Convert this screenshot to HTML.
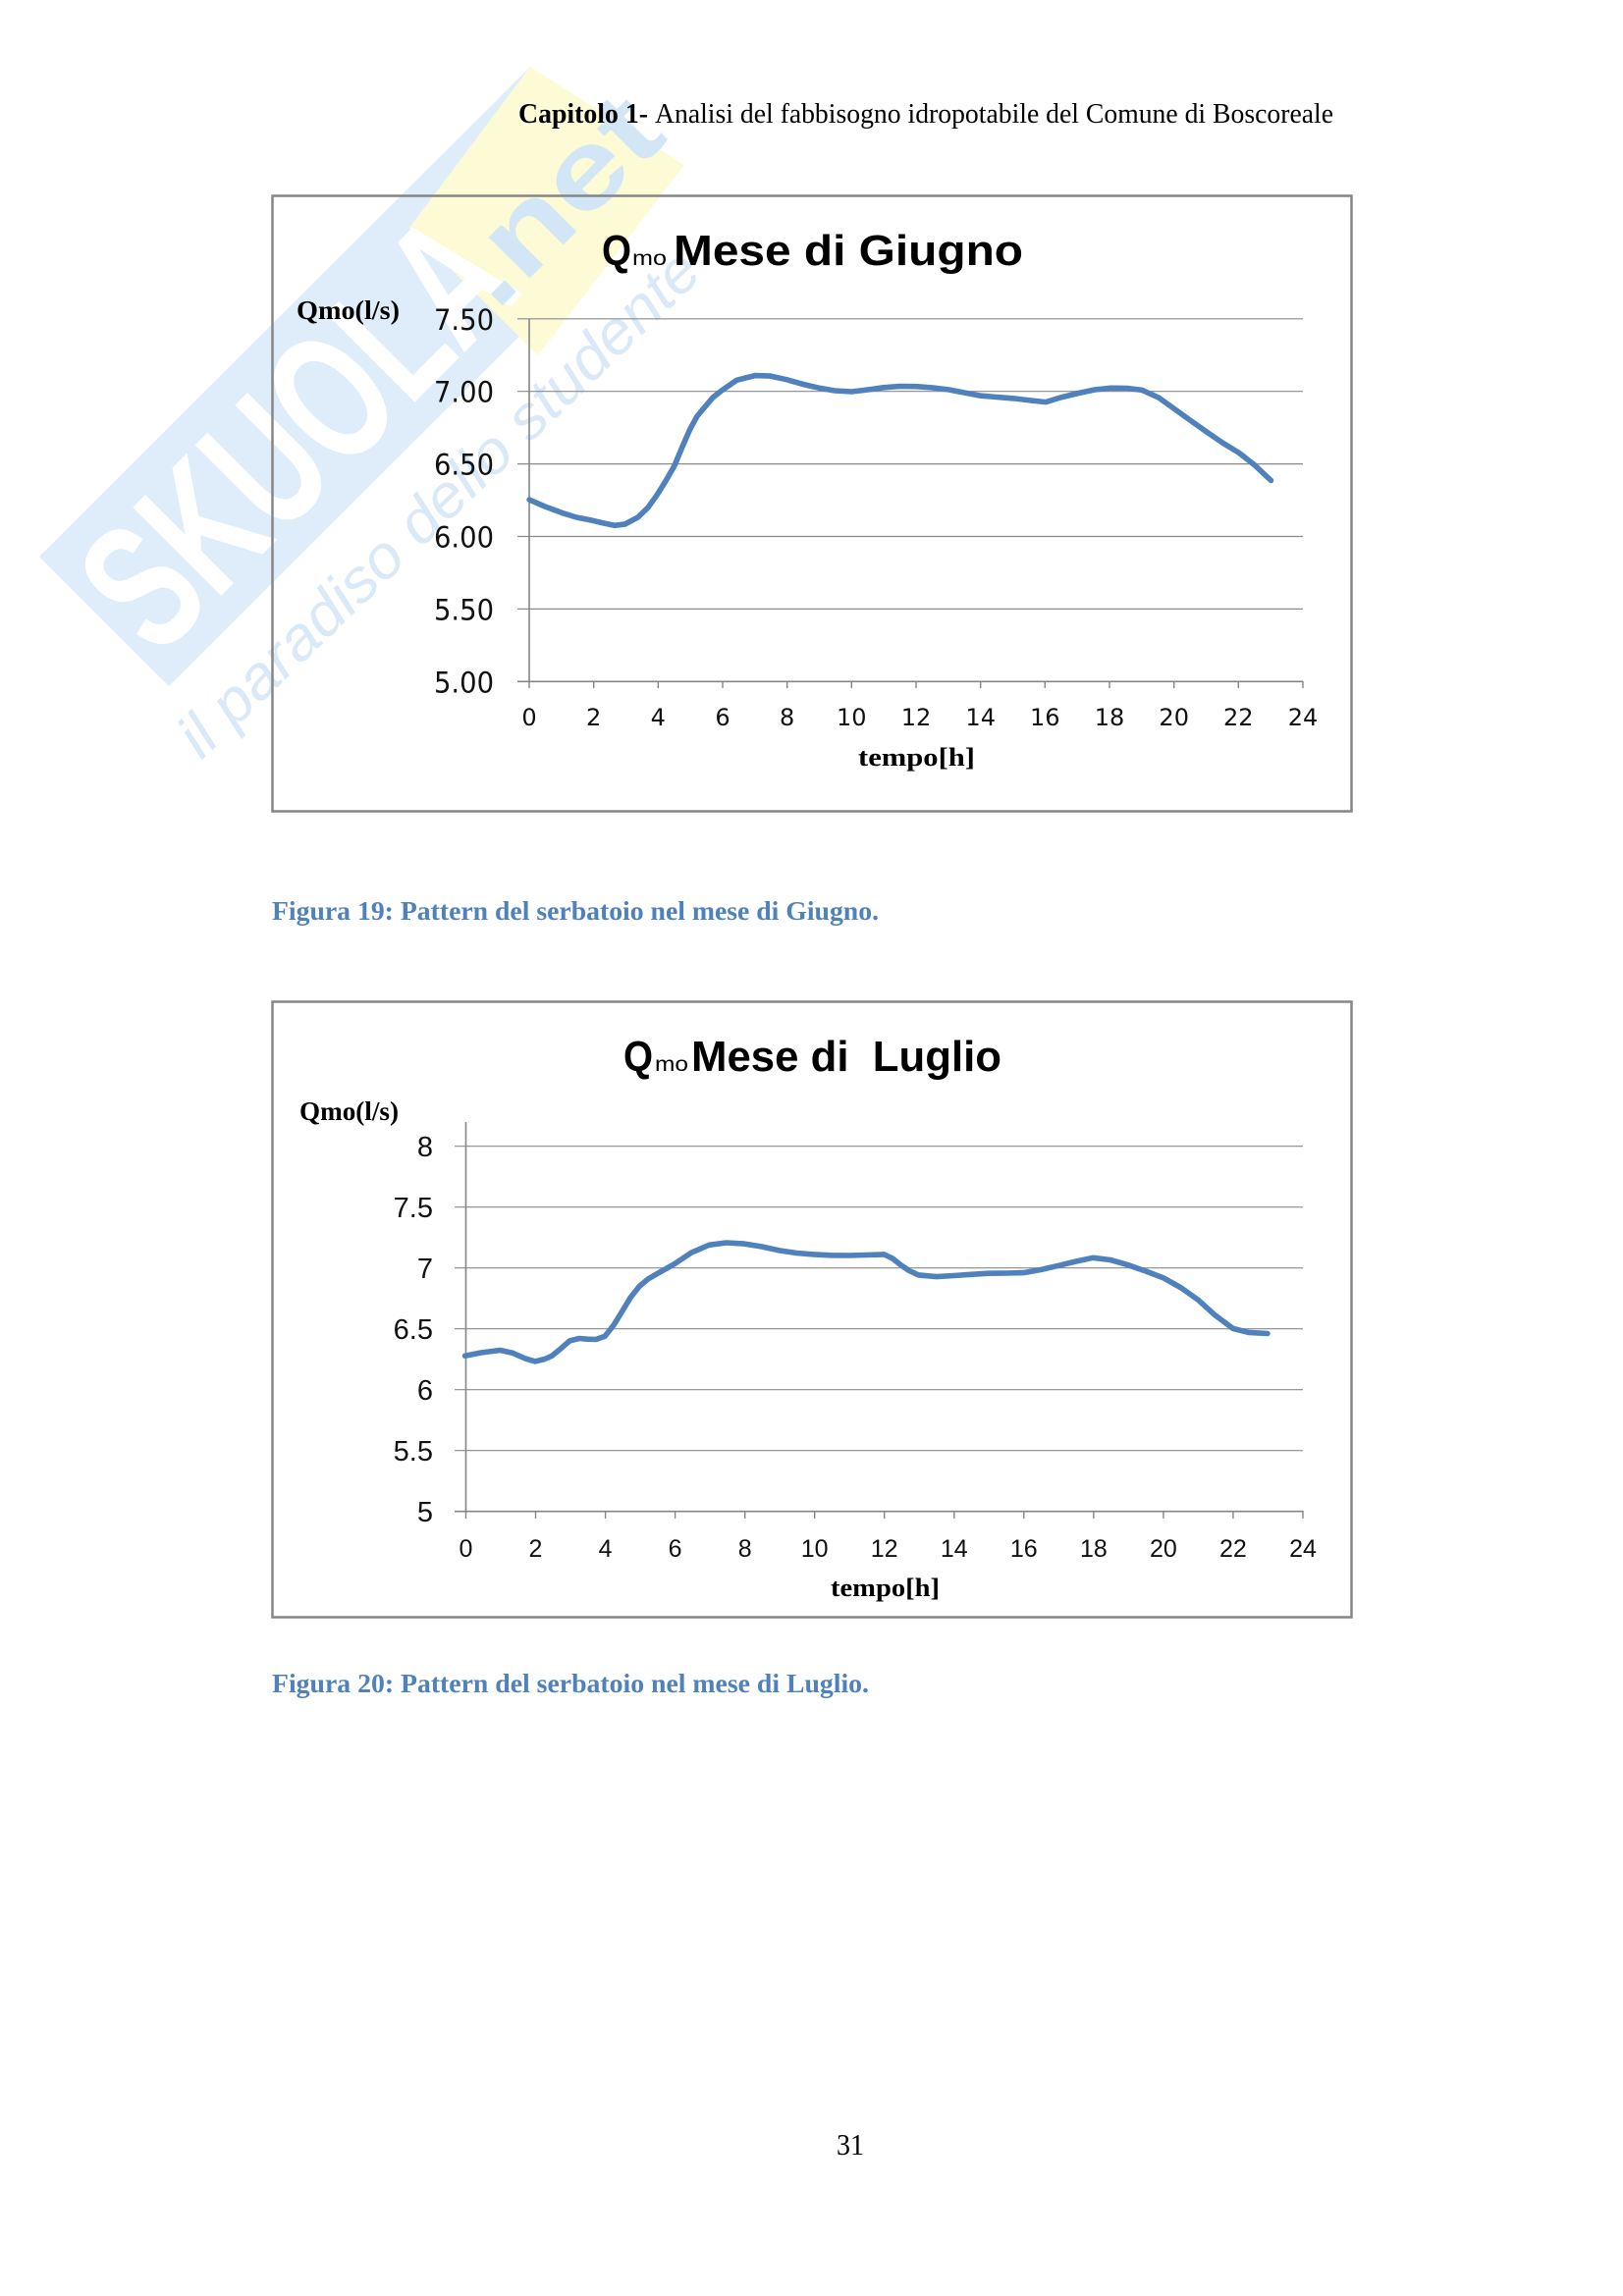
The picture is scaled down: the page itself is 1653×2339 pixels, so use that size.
<!DOCTYPE html>
<html>
<head>
<meta charset="utf-8">
<style>
  html, body { margin: 0; padding: 0; background: #ffffff; }
  body { width: 1653px; height: 2339px; overflow: hidden; }
  svg { display: block; }
</style>
</head>
<body>
<svg width="1653" height="2339" viewBox="0 0 1653 2339" xmlns="http://www.w3.org/2000/svg">
  <rect x="0" y="0" width="1653" height="2339" fill="#ffffff"/>

  <!-- Watermark -->
  <g>
    <polygon points="40,567 540,68 672,200 172,699" fill="#deedf9"/>
    <polygon points="417,232 540,68 697,168 548,362" fill="#fdfbd6"/>
    <text x="0" y="0" transform="translate(160,672) rotate(-45)" font-family="Liberation Sans, sans-serif" font-weight="bold" font-size="185" fill="#ffffff" textLength="530" lengthAdjust="spacingAndGlyphs">SKUOLA</text>
    <text x="0" y="0" transform="translate(505,318) rotate(-45)" font-family="Liberation Sans, sans-serif" font-weight="bold" font-size="112" fill="#d2e6f6" textLength="250" lengthAdjust="spacingAndGlyphs">.net</text>
    <text x="0" y="0" transform="translate(205,775) rotate(-44)" font-family="Liberation Sans, sans-serif" font-style="italic" font-size="62" fill="#d9e9f7" textLength="712" lengthAdjust="spacingAndGlyphs">il paradiso dello studente</text>
  </g>

  <!-- Header -->
  <text x="528" y="125" font-family="Liberation Serif, serif" font-weight="bold" font-size="28" fill="#000" textLength="132" lengthAdjust="spacingAndGlyphs">Capitolo 1-</text>
  <text x="667" y="125" font-family="Liberation Serif, serif" font-size="28" fill="#000" textLength="691" lengthAdjust="spacingAndGlyphs">Analisi del fabbisogno idropotabile del Comune di Boscoreale</text>

  <!-- ================= CHART 1 ================= -->
  <rect x="277.5" y="199.5" width="1099" height="627" fill="none" stroke="#868686" stroke-width="2.5"/>

  <text x="613" y="270" font-family="Liberation Sans, sans-serif" font-weight="bold" font-size="44" fill="#000" textLength="30" lengthAdjust="spacingAndGlyphs">Q</text>
  <text x="644" y="270" font-family="Liberation Sans, sans-serif" font-size="21" fill="#000" textLength="35" lengthAdjust="spacingAndGlyphs">mo</text>
  <text x="686" y="270" font-family="Liberation Sans, sans-serif" font-weight="bold" font-size="44" fill="#000" textLength="356" lengthAdjust="spacingAndGlyphs">Mese di Giugno</text>

  <text x="302" y="325" font-family="Liberation Serif, serif" font-weight="bold" font-size="27" fill="#000" textLength="105" lengthAdjust="spacingAndGlyphs">Qmo(l/s)</text>

  <!-- gridlines -->
  <g stroke="#8a8a8a" stroke-width="1.2">
    <line x1="527" y1="324.8" x2="1327" y2="324.8"/>
    <line x1="527" y1="398.7" x2="1327" y2="398.7"/>
    <line x1="527" y1="472.6" x2="1327" y2="472.6"/>
    <line x1="527" y1="546.5" x2="1327" y2="546.5"/>
    <line x1="527" y1="620.4" x2="1327" y2="620.4"/>
  </g>
  <g stroke="#868686" stroke-width="1.6">
    <line x1="527" y1="694.3" x2="1327" y2="694.3"/>
    <line x1="539" y1="324.8" x2="539" y2="694.3"/>
  </g>
  <g stroke="#868686" stroke-width="1.4">
    <line x1="539" y1="694" x2="539" y2="701"/>
    <line x1="604.7" y1="694" x2="604.7" y2="701"/>
    <line x1="670.3" y1="694" x2="670.3" y2="701"/>
    <line x1="736" y1="694" x2="736" y2="701"/>
    <line x1="801.7" y1="694" x2="801.7" y2="701"/>
    <line x1="867.3" y1="694" x2="867.3" y2="701"/>
    <line x1="933" y1="694" x2="933" y2="701"/>
    <line x1="998.7" y1="694" x2="998.7" y2="701"/>
    <line x1="1064.3" y1="694" x2="1064.3" y2="701"/>
    <line x1="1130" y1="694" x2="1130" y2="701"/>
    <line x1="1195.7" y1="694" x2="1195.7" y2="701"/>
    <line x1="1261.3" y1="694" x2="1261.3" y2="701"/>
    <line x1="1327" y1="694" x2="1327" y2="701"/>
  </g>

  <g font-family="DejaVu Sans, sans-serif" font-size="29" fill="#111">
    <text x="442" y="335.8" textLength="61" lengthAdjust="spacingAndGlyphs">7.50</text>
    <text x="442" y="409.7" textLength="61" lengthAdjust="spacingAndGlyphs">7.00</text>
    <text x="442" y="483.6" textLength="61" lengthAdjust="spacingAndGlyphs">6.50</text>
    <text x="442" y="557.5" textLength="61" lengthAdjust="spacingAndGlyphs">6.00</text>
    <text x="442" y="631.4" textLength="61" lengthAdjust="spacingAndGlyphs">5.50</text>
    <text x="442" y="705.3" textLength="61" lengthAdjust="spacingAndGlyphs">5.00</text>
  </g>
  <g font-family="DejaVu Sans, sans-serif" font-size="24" fill="#111" text-anchor="middle">
    <text x="539" y="739">0</text>
    <text x="604.7" y="739">2</text>
    <text x="670.3" y="739">4</text>
    <text x="736" y="739">6</text>
    <text x="801.7" y="739">8</text>
    <text x="867.3" y="739">10</text>
    <text x="933" y="739">12</text>
    <text x="998.7" y="739">14</text>
    <text x="1064.3" y="739">16</text>
    <text x="1130" y="739">18</text>
    <text x="1195.7" y="739">20</text>
    <text x="1261.3" y="739">22</text>
    <text x="1327" y="739">24</text>
  </g>
  <text x="874" y="780" font-family="Liberation Serif, serif" font-weight="bold" font-size="26" fill="#000" textLength="119" lengthAdjust="spacingAndGlyphs">tempo[h]</text>

  <polyline fill="none" stroke="#4f81bd" stroke-width="5.6" stroke-linejoin="round" stroke-linecap="round" points="
    539.1,509.1 555,516 571.9,522.3 587,527 603.6,530.3 615,533 625.9,535.3 636.5,534 649.7,527 660,517
    669.3,504 678,490 686.8,474.7 695,455 702.6,437.6 710,424 718.5,413.8 726,405 734.9,397.9 750.3,387.3
    768.8,382.6 784.7,383.1 801.6,386.8 818,391.5 834.5,395.3 850,398 867.3,399 884,397 900.1,394.8 916,393.5
    932.9,393.7 950,395 965.7,396.9 982,400 999.1,403.2 1015,404.5 1032.4,405.9 1050,408 1065.3,409.6 1080,405
    1098.1,400.6 1115,397 1131.4,395.3 1148,395.5 1163.2,397.4 1180,405 1196,416.5 1212,428 1229.4,440.3
    1245,451 1262.2,461.5 1278,474 1294.5,489.5"/>

  <text x="277" y="937" font-family="Liberation Serif, serif" font-weight="bold" font-size="27" fill="#4f81bd" textLength="618" lengthAdjust="spacingAndGlyphs">Figura 19: Pattern del serbatoio nel mese di Giugno.</text>

  <!-- ================= CHART 2 ================= -->
  <rect x="277.5" y="1020.5" width="1099" height="627" fill="none" stroke="#868686" stroke-width="2.5"/>

  <text x="635" y="1091" font-family="Liberation Sans, sans-serif" font-weight="bold" font-size="44" fill="#000" textLength="30" lengthAdjust="spacingAndGlyphs">Q</text>
  <text x="667" y="1091" font-family="Liberation Sans, sans-serif" font-size="21" fill="#000" textLength="34" lengthAdjust="spacingAndGlyphs">mo</text>
  <text x="704" y="1091" font-family="Liberation Sans, sans-serif" font-weight="bold" font-size="44" fill="#000" textLength="316" lengthAdjust="spacingAndGlyphs">Mese di&#160; Luglio</text>

  <text x="305" y="1141" font-family="Liberation Serif, serif" font-weight="bold" font-size="27" fill="#000" textLength="101" lengthAdjust="spacingAndGlyphs">Qmo(l/s)</text>

  <g stroke="#8a8a8a" stroke-width="1.2">
    <line x1="463" y1="1167.7" x2="1327" y2="1167.7"/>
    <line x1="463" y1="1229.7" x2="1327" y2="1229.7"/>
    <line x1="463" y1="1291.7" x2="1327" y2="1291.7"/>
    <line x1="463" y1="1353.7" x2="1327" y2="1353.7"/>
    <line x1="463" y1="1415.7" x2="1327" y2="1415.7"/>
    <line x1="463" y1="1477.7" x2="1327" y2="1477.7"/>
  </g>
  <g stroke="#868686" stroke-width="1.6">
    <line x1="463" y1="1539.7" x2="1327" y2="1539.7"/>
    <line x1="474.5" y1="1143" x2="474.5" y2="1539.7"/>
  </g>
  <g stroke="#868686" stroke-width="1.4">
    <line x1="474.5" y1="1539" x2="474.5" y2="1547"/>
    <line x1="545.5" y1="1539" x2="545.5" y2="1547"/>
    <line x1="616.6" y1="1539" x2="616.6" y2="1547"/>
    <line x1="687.6" y1="1539" x2="687.6" y2="1547"/>
    <line x1="758.7" y1="1539" x2="758.7" y2="1547"/>
    <line x1="829.7" y1="1539" x2="829.7" y2="1547"/>
    <line x1="900.7" y1="1539" x2="900.7" y2="1547"/>
    <line x1="971.8" y1="1539" x2="971.8" y2="1547"/>
    <line x1="1042.8" y1="1539" x2="1042.8" y2="1547"/>
    <line x1="1113.9" y1="1539" x2="1113.9" y2="1547"/>
    <line x1="1184.9" y1="1539" x2="1184.9" y2="1547"/>
    <line x1="1255.9" y1="1539" x2="1255.9" y2="1547"/>
    <line x1="1327" y1="1539" x2="1327" y2="1547"/>
  </g>

  <g font-family="Liberation Sans, sans-serif" font-size="29" fill="#111" text-anchor="end">
    <text x="441" y="1178.2">8</text>
    <text x="441" y="1240.2">7.5</text>
    <text x="441" y="1302.2">7</text>
    <text x="441" y="1364.2">6.5</text>
    <text x="441" y="1426.2">6</text>
    <text x="441" y="1488.2">5.5</text>
    <text x="441" y="1550.2">5</text>
  </g>
  <g font-family="Liberation Sans, sans-serif" font-size="25" fill="#111" text-anchor="middle">
    <text x="474.5" y="1586">0</text>
    <text x="545.5" y="1586">2</text>
    <text x="616.6" y="1586">4</text>
    <text x="687.6" y="1586">6</text>
    <text x="758.7" y="1586">8</text>
    <text x="829.7" y="1586">10</text>
    <text x="900.7" y="1586">12</text>
    <text x="971.8" y="1586">14</text>
    <text x="1042.8" y="1586">16</text>
    <text x="1113.9" y="1586">18</text>
    <text x="1184.9" y="1586">20</text>
    <text x="1255.9" y="1586">22</text>
    <text x="1327" y="1586">24</text>
  </g>
  <text x="846" y="1626" font-family="Liberation Serif, serif" font-weight="bold" font-size="26" fill="#000" textLength="111" lengthAdjust="spacingAndGlyphs">tempo[h]</text>

  <polyline fill="none" stroke="#4f81bd" stroke-width="5.6" stroke-linejoin="round" stroke-linecap="round" points="
    473.6,1381.2 490,1378 509.4,1375.5 522.4,1378.4 535,1384 545.1,1386.9 555,1384.5 562.2,1381.2 571,1374 580.3,1365.9
    590,1363.5 597.9,1364.2 607,1364.5 616.1,1361.3 625,1350 633.7,1335.8 642,1322 651.3,1310.3 660,1303 668.9,1297.8
    687,1287.6 704,1276.2 722.2,1268.3 739.8,1266 758,1267.1 776,1270 793.7,1273.9 811,1276.5 828.9,1277.9 846,1278.8
    864.7,1279 882,1278.5 900.4,1277.9 909,1282 917.4,1288.7 926,1294.5 935.6,1298.9 953.8,1300.6 971.4,1299.5 989,1298.3
    1006.5,1297.2 1024,1297 1042.3,1296.6 1060,1293.5 1078,1289.3 1096,1285 1113.2,1281.3 1131,1283.5 1149,1288.7 1167,1295
    1184.7,1301.7 1203,1312 1220.5,1324.4 1237.5,1339.8 1255.7,1353.4 1271.6,1357.4 1290.9,1358.5"/>

  <text x="277" y="1724" font-family="Liberation Serif, serif" font-weight="bold" font-size="27" fill="#4f81bd" textLength="608" lengthAdjust="spacingAndGlyphs">Figura 20: Pattern del serbatoio nel mese di Luglio.</text>

  <!-- Page number -->
  <text x="852" y="2195" font-family="Liberation Serif, serif" font-size="31" fill="#000" textLength="28" lengthAdjust="spacingAndGlyphs">31</text>
</svg>
</body>
</html>
